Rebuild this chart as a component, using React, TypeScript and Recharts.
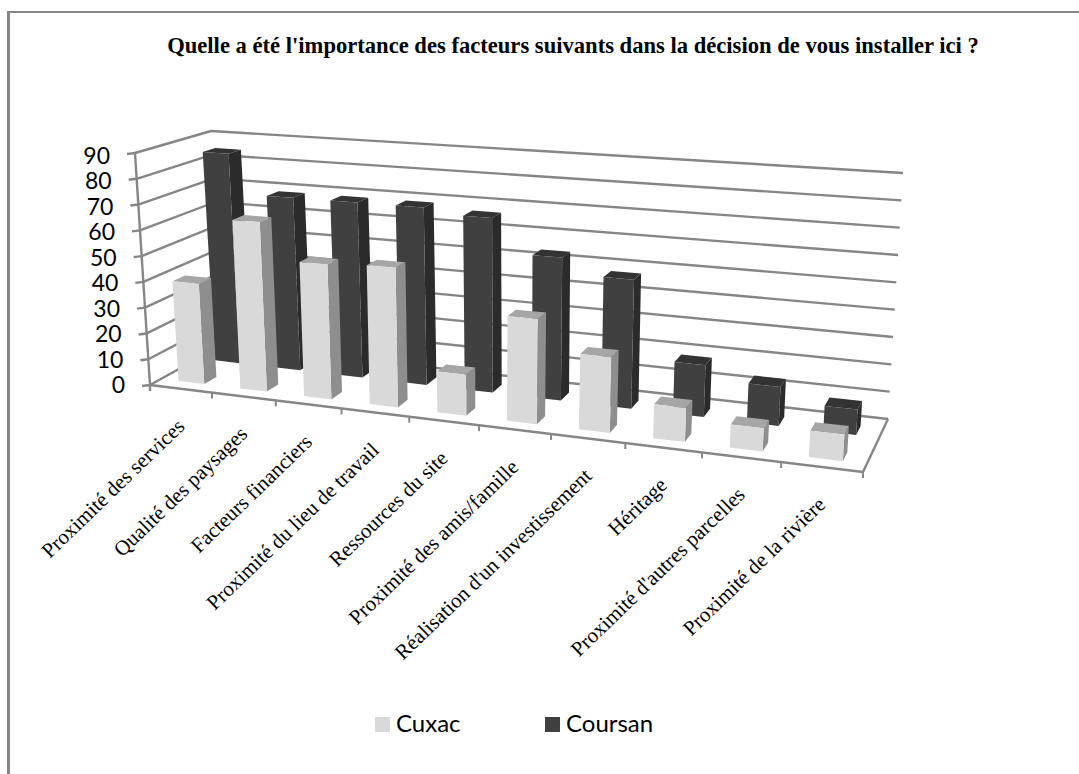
import React from "react";
import { BarChart, Bar, XAxis, YAxis, CartesianGrid } from "recharts";

const categories = [
  "Proximité des services",
  "Qualité des paysages",
  "Facteurs financiers",
  "Proximité du lieu de travail",
  "Ressources du site",
  "Proximité des amis/famille",
  "Réalisation d'un investissement",
  "Héritage",
  "Proximité d'autres parcelles",
  "Proximité de la rivière",
];
const cuxac = [39, 65, 51, 52, 15, 38, 27, 12, 8, 9];
const coursan = [85, 69, 69, 69, 67, 54, 48, 19, 14, 9];
const yTicks = [0, 10, 20, 30, 40, 50, 60, 70, 80, 90];

const data = categories.map((name, i) => ({ name, cuxac: cuxac[i], coursan: coursan[i] }));

// flat plot area the library computes its scales in; everything is then
// projected on the tilted 3D box of the original Excel chart
const W = 1079;
const H = 774;
const PLOT = { left: 100, top: 100, width: 800, height: 450 };
const BAND = PLOT.width / categories.length;
const BAR = BAND * 0.42;

type Pt = [number, number];
const FLOOR = { fl: [150, 385] as Pt, fr: [863, 472] as Pt, bl: [224, 344] as Pt, br: [888, 419] as Pt };
const TOP = { fl: [135, 153] as Pt, fr: [881, 202] as Pt, bl: [211, 131] as Pt, br: [903, 173] as Pt };

const lerp = (a: Pt, b: Pt, t: number): Pt => [a[0] + (b[0] - a[0]) * t, a[1] + (b[1] - a[1]) * t];
// categories get wider towards the right (perspective)
const warp = (u: number) => (0.857 * u) / (1 - 0.143 * u);

function proj(u: number, d: number, h: number): Pt {
  const U = warp(u);
  const floor = lerp(lerp(FLOOR.fl, FLOOR.fr, U), lerp(FLOOR.bl, FLOOR.br, U), d);
  const top = lerp(lerp(TOP.fl, TOP.fr, U), lerp(TOP.bl, TOP.br, U), d);
  return lerp(floor, top, h);
}

const poly = (pts: Pt[]) => pts.map((p) => `${p[0].toFixed(1)},${p[1].toFixed(1)}`).join(" ");
const xToU = (x: number) => (x - PLOT.left) / PLOT.width;
const yToH = (y: number) => (PLOT.top + PLOT.height - y) / PLOT.height;

const GRID = "#868686";
const DEPTH = 0.17;

function boxShape(d0: number, front: string, side: string, cap: string) {
  return (props: any) => {
    const { x, y, width } = props;
    const u0 = xToU(x);
    const u1 = xToU(x + width);
    const h = yToH(y);
    const d1 = d0 + DEPTH;
    return (
      <g>
        <polygon points={poly([proj(u1, d0, 0), proj(u1, d1, 0), proj(u1, d1, h), proj(u1, d0, h)])} fill={side} />
        <polygon points={poly([proj(u0, d0, h), proj(u1, d0, h), proj(u1, d1, h), proj(u0, d1, h)])} fill={cap} />
        <polygon points={poly([proj(u0, d0, 0), proj(u1, d0, 0), proj(u1, d0, h), proj(u0, d0, h)])} fill={front} />
      </g>
    );
  };
}

function seg(a: Pt, b: Pt, key?: string) {
  return <line key={key} x1={a[0]} y1={a[1]} x2={b[0]} y2={b[1]} stroke={GRID} strokeWidth={2.4} />;
}

// one gridline goes along the left wall and then along the back wall
function gridLine(props: any) {
  const h = yToH(props.y1);
  return (
    <g key={props.key}>
      {seg(proj(0, 0, h), proj(0, 1, h))}
      {seg(proj(0, 1, h), proj(1, 1, h))}
      {seg(proj(0, 0, h), [proj(0, 0, h)[0] - 8, proj(0, 0, h)[1] + 1])}
      {h < 0.001 && (
        <>
          {seg(proj(0, 0, 0), proj(1, 0, 0))}
          {seg(proj(1, 0, 0), proj(1, 1, 0))}
          {seg(proj(0, 0, 0), proj(0, 0, 1))}
          {seg(proj(0, 0, 0), [150, 391])}
        </>
      )}
    </g>
  );
}

function CategoryTick(props: any) {
  const { payload } = props;
  const u = xToU(payload.coordinate);
  const end = xToU(payload.coordinate + BAND / 2);
  const [mx, my] = proj(u, 0, 0);
  const [tx, ty] = proj(end, 0, 0);
  const lx = mx + 5;
  const ly = my + 39;
  return (
    <g>
      <line x1={tx} y1={ty} x2={tx} y2={ty + 6} stroke={GRID} strokeWidth={2} />
      <text
        x={lx}
        y={ly}
        textAnchor="end"
        transform={`rotate(-44 ${lx} ${ly})`}
        fontFamily="Liberation Serif"
        fontSize={21}
        fill="#000"
      >
        {payload.value}
      </text>
    </g>
  );
}

function ValueTick(props: any) {
  const { payload, y } = props;
  const h = yToH(y);
  const [px, py] = proj(0, 0, h);
  return (
    <text x={px - 25} y={py + 8 + 3 * h} textAnchor="end" fontFamily="Lato" fontSize={23} fill="#000">
      {payload.value}
    </text>
  );
}

const legendItems = [
  { label: "Cuxac", color: "#D9D9D9", x: 375 },
  { label: "Coursan", color: "#404040", x: 545 },
];

export default function App() {
  return (
    <div style={{ position: "absolute", left: 0, top: 0, width: W, height: H, overflow: "hidden", background: "#fff" }}>
      <div style={{ position: "absolute", left: 7, top: 11, width: 1100, height: 800, borderLeft: "3px solid #868686", borderTop: "2px solid #868686" }} />
      <BarChart
        width={W}
        height={H}
        data={data}
        barSize={BAR}
        barGap={-BAR}
        margin={{ left: PLOT.left - 1, top: PLOT.top, right: W - PLOT.left - PLOT.width, bottom: H - PLOT.top - PLOT.height - 1 }}
      >
        <text x={573} y={53} textAnchor="middle" fontFamily="Liberation Serif" fontWeight="bold" fontSize={22.6} fill="#000">
          Quelle a été l'importance des facteurs suivants dans la décision de vous installer ici ?
        </text>
        {legendItems.map((it) => (
          <g key={it.label}>
            <rect x={it.x} y={717} width={15} height={15} fill={it.color} />
            <text x={it.x + 21} y={732} fontFamily="Lato" fontSize={24} fill="#000">
              {it.label}
            </text>
          </g>
        ))}
        <CartesianGrid vertical={false} horizontal={gridLine} />
        <XAxis dataKey="name" interval={0} height={1} axisLine={false} tickLine={false} tick={(p: any) => <CategoryTick {...p} />} />
        <YAxis width={1} domain={[0, 90]} ticks={yTicks} axisLine={false} tickLine={false} tick={(p: any) => <ValueTick {...p} />} />
        <Bar dataKey="coursan" name="Coursan" fill="#404040" isAnimationActive={false} shape={boxShape(0.65, "#404040", "#2B2B2B", "#333333")} />
        <Bar dataKey="cuxac" name="Cuxac" fill="#D9D9D9" isAnimationActive={false} shape={boxShape(0.15, "#D9D9D9", "#8E8E8E", "#A6A6A6")} />
      </BarChart>
    </div>
  );
}
